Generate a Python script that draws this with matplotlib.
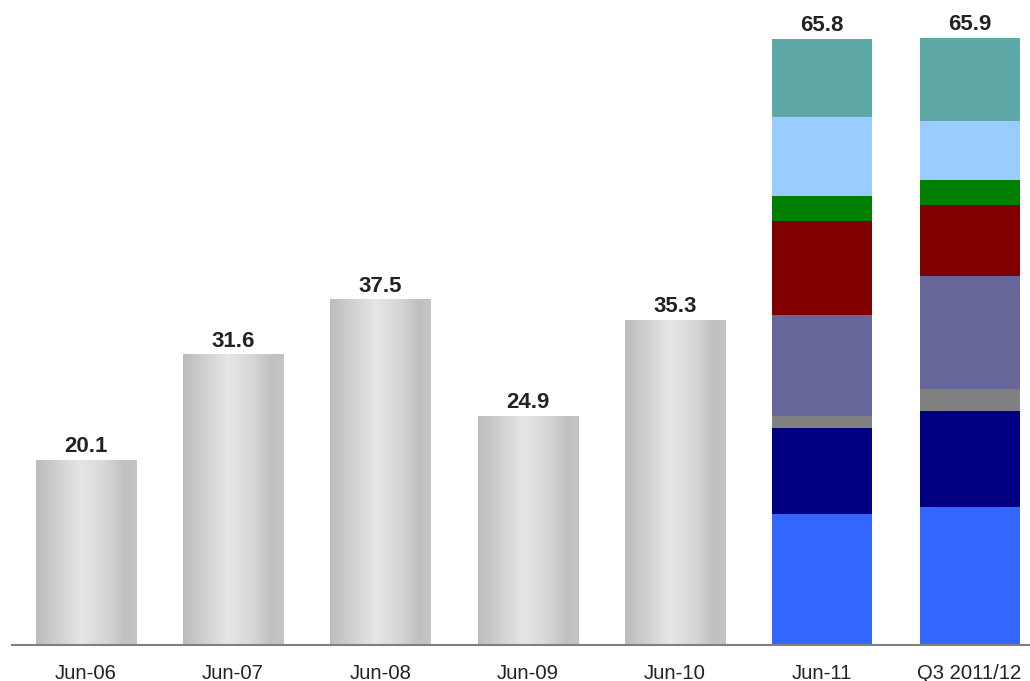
import numpy as np
import matplotlib
matplotlib.use("Agg")
import matplotlib.pyplot as plt
from matplotlib.colors import LinearSegmentedColormap

plt.rcParams['font.family'] = ['Liberation Sans', 'DejaVu Sans']

# Totals for the single-colour years
periods = ["Jun-06", "Jun-07", "Jun-08", "Jun-09", "Jun-10", "Jun-11", "Q3 2011/12"]
totals = [20.1, 31.6, 37.5, 24.9, 35.3, 65.8, 65.9]

# Component breakdown for the last two periods (bottom to top)
seg_jun11 = [14.2, 9.3, 1.4, 10.9, 10.2, 2.7, 8.6, 8.5]
seg_q3 = [15.0, 10.4, 2.4, 12.2, 7.8, 2.7, 6.4, 9.0]
seg_colors = ["#3366FF", "#000080", "#808080", "#666699",
              "#800000", "#008000", "#99CCFF", "#5FA8A8"]

W, H = 1030, 681
fig = plt.figure(figsize=(W / 100, H / 100), dpi=100)
ax = fig.add_axes([12 / W, 36 / H, (W - 12) / W, 645 / H])

x = np.arange(len(periods))
bar_w = 0.68

# Metallic grey gradient for the plain bars
grad = LinearSegmentedColormap.from_list(
    "silver",
    [(0.0, "#bcbcbc"), (0.15, "#cacaca"), (0.45, "#e6e6e6"),
     (0.7, "#d6d6d6"), (0.88, "#c0c0c0"), (1.0, "#c4c4c4")])
strip = np.linspace(0, 1, 256).reshape(1, -1)

n_plain = 5
for i in range(n_plain):
    bars = ax.bar(x[i], totals[i], width=bar_w, color="none", edgecolor="none")
    patch = bars[0]
    x0 = patch.get_x()
    im = ax.imshow(strip, cmap=grad, aspect="auto",
                   extent=(x0, x0 + patch.get_width(), 0, patch.get_height()),
                   zorder=2, interpolation="bicubic")
    im.set_clip_path(patch)

# Stacked bars
for idx, segs in zip([5, 6], [seg_jun11, seg_q3]):
    bottom = 0.0
    for val, col in zip(segs, seg_colors):
        ax.bar(x[idx], val, bottom=bottom, width=bar_w, color=col,
               edgecolor="none", zorder=2)
        bottom += val

# Value labels
for xi, t in zip(x, totals):
    ax.text(xi, t + 0.25, f"{t:.1f}", ha="center", va="bottom",
            fontsize=16, fontweight="bold", color="#222222", zorder=3)

ax.set_xlim(-0.5, 6.41)
ax.set_ylim(0, 70)
ax.set_xticks(x)
ax.set_xticklabels(periods, fontsize=14.6, color="#222222")
ax.tick_params(axis="x", length=0, pad=13.5)
ax.set_yticks([])
for side in ["top", "right", "left"]:
    ax.spines[side].set_visible(False)
ax.spines["bottom"].set_color("#808080")
ax.spines["bottom"].set_linewidth(1.5)
ax.patch.set_alpha(0)

fig.savefig("out.png", dpi=100, facecolor="white")
